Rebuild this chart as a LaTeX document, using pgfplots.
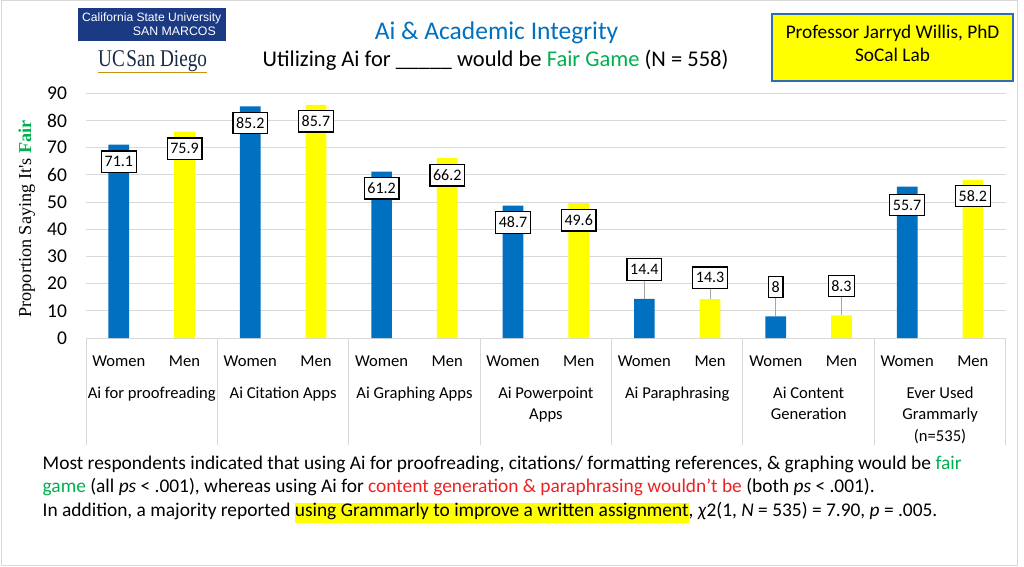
\documentclass[border=0pt]{standalone}
\usepackage{pgfplots}
\pgfplotsset{compat=1.18}
\usepackage{pgfplotstable}
\usepackage{fontspec}
\setmainfont{Carlito}
\newfontfamily\tnr{Liberation Serif}
\newfontfamily\arialf{Liberation Sans}
\definecolor{barblue}{HTML}{0070C0}
\definecolor{baryellow}{HTML}{FFFF00}
\definecolor{titleblue}{HTML}{0070C0}
\definecolor{fairgreen}{HTML}{00B050}
\definecolor{redtxt}{HTML}{EE2222}
\definecolor{gridgray}{HTML}{D9D9D9}
\definecolor{leadgray}{HTML}{A6A6A6}
\definecolor{csunavy}{HTML}{1B3A84}
\definecolor{ucsdnavy}{HTML}{182B49}
\definecolor{ucsdgold}{HTML}{C69214}
\definecolor{boxblue}{HTML}{2F6CB3}

\pgfplotstableread{
x y ly
0 71.1 64.8
2 85.2 79.1
4 61.2 55.1
6 48.7 42.5
8 14.4 25.2
10 8 18.75
12 55.7 48.9
}\women
\pgfplotstableread{
x y ly
1 75.9 69.6
3 85.7 79.7
5 66.2 59.9
7 49.6 43.3
9 14.3 22.2
11 8.3 19.1
13 58.2 52.2
}\men

\begin{document}
\begin{tikzpicture}[x=1pt,y=1pt]
\useasboundingbox (0,0) rectangle (1024,566);
\fill[white] (0,0) rectangle (1024,566);
\draw[gridgray, line width=1pt] (1.5,1) rectangle (1017,565);

\begin{axis}[
  at={(86pt,228pt)}, anchor=south west,
  scale only axis, width=919.7pt, height=244.7pt,
  xmin=-0.5, xmax=13.5, ymin=0, ymax=90,
  ytick={0,10,...,90},
  ymajorgrids, grid style={gridgray, line width=1pt},
  axis line style={draw=none},
  xtick={0,...,13},
  xticklabels={Women,Men,Women,Men,Women,Men,Women,Men,Women,Men,Women,Men,Women,Men},
  major tick length=0pt,
  tick pos=left,
  xticklabel style={font=\fontsize{16.6}{19}\selectfont, anchor=base, yshift=-28pt},
  yticklabel style={font=\fontsize{19.5}{20}\selectfont, anchor=east, xshift=-15.5pt},
  /pgf/number format/assume math mode=true,
  extra x ticks={-0.5,1.5,...,13.5},
  extra x tick labels={},
  extra x tick style={major tick length=107pt, tick align=outside, tick style={gridgray, line width=1pt}},
  clip=false,
]
\addplot[ybar, bar width=20.7pt, bar shift=0pt, fill=barblue, draw=none] table[x=x,y=y] {\women};
\addplot[ybar, bar width=20.7pt, bar shift=0pt, fill=baryellow, draw=none] table[x=x,y=y] {\men};
% leader lines
\addplot[leadgray, line width=1pt] coordinates {(8,14.4) (8,21.15)};
\addplot[leadgray, line width=1pt] coordinates {(9,14.3) (9,18.15)};
\addplot[leadgray, line width=1pt] coordinates {(10,8) (10,14.7)};
\addplot[leadgray, line width=1pt] coordinates {(11,8.3) (11,15.05)};
% data labels
\pgfplotsset{lbl/.style={only marks, mark=none, nodes near coords, point meta=explicit symbolic,
  every node near coord/.style={draw=black, line width=1.3pt, fill=white, anchor=center,
    font=\fontsize{16}{16}\selectfont, inner xsep=3.2pt, inner ysep=0pt, minimum height=21.5pt}}}
\addplot[lbl] table[x=x, y=ly, meta=y] {\women};
\addplot[lbl] table[x=x, y=ly, meta=y] {\men};
\end{axis}

% y label
\node[rotate=90, font=\fontsize{18.2}{18}\selectfont\tnr] at (26.7,347) {Proportion Saying It's \textcolor{fairgreen}{\bfseries Fair}};

% group labels
\begin{scope}[every node/.style={anchor=base, font=\fontsize{16.6}{19}\selectfont, inner sep=0pt}]
\node at (151.7,168) {Ai for proofreading};
\node at (283.1,168) {Ai Citation Apps};
\node at (414.5,168) {Ai Graphing Apps};
\node at (545.9,168) {Ai Powerpoint};
\node at (545.9,146.5) {Apps};
\node at (677.3,168) {Ai Paraphrasing};
\node at (808.7,168) {Ai Content};
\node at (808.7,146.5) {Generation};
\node at (940.1,168) {Ever Used};
\node at (940.1,146.5) {Grammarly};
\node at (940.1,125) {(n=535)};
\end{scope}

% titles
\node[anchor=base, text=titleblue, font=\fontsize{25.5}{26}\selectfont, inner sep=0pt] at (496.5,526.7) {Ai \& Academic Integrity};
\node[anchor=base, font=\fontsize{22.5}{22}\selectfont, inner sep=0pt] at (495.5,499.3) {Utilizing Ai for \_\_\_\_\_ would be \textcolor{fairgreen}{Fair Game} (N = 558)};

% professor box
\draw[boxblue, line width=2pt, fill=baryellow] (772,552) rectangle (1013,485);
\node[anchor=base, font=\fontsize{19.3}{20}\selectfont, inner sep=0pt] at (892.5,527.7) {Professor Jarryd Willis, PhD};
\node[anchor=base, font=\fontsize{19.3}{20}\selectfont, inner sep=0pt] at (892.5,504.3) {SoCal Lab};

% logos
\fill[csunavy] (78,558) rectangle (226,525);
\node[anchor=base west, inner sep=0pt, text=white] at (82,544.5) {\resizebox{139pt}{!}{\arialf California State University}};
\node[anchor=base east, inner sep=0pt, text=white] at (216,530) {\resizebox{83pt}{!}{\arialf SAN MARCOS}};
\node[anchor=base west, inner sep=0pt, text=ucsdnavy] at (98,499) {\scalebox{0.8}[1]{\fontsize{24}{24}\selectfont\tnr UC\hspace{2pt}San Diego}};
\draw[ucsdgold, line width=1.2pt] (98,493.5) -- (207,493.5);

% footnote
\begin{scope}[every node/.style={anchor=base west, font=\fontsize{19.4}{20}\selectfont, inner sep=0pt}]
\node at (42.5,96.7) {Most respondents indicated that using Ai for proofreading, citations/ formatting references, \& graphing would be \textcolor{fairgreen}{fair}};
\node at (42.5,73.3) {\textcolor{fairgreen}{game} (all \textit{ps} < .001), whereas using Ai for \textcolor{redtxt}{content generation \& paraphrasing wouldn't be} (both \textit{ps} < .001).};
\node at (42.5,50) {In addition, a majority reported {\setlength{\fboxsep}{0pt}\colorbox{baryellow}{\rule[-6.5pt]{0pt}{18pt}using Grammarly to improve a written assignment}}, \textit{χ}2(1, \textit{N} = 535) = 7.90, \textit{p} = .005.};
\end{scope}
\end{tikzpicture}
\end{document}
